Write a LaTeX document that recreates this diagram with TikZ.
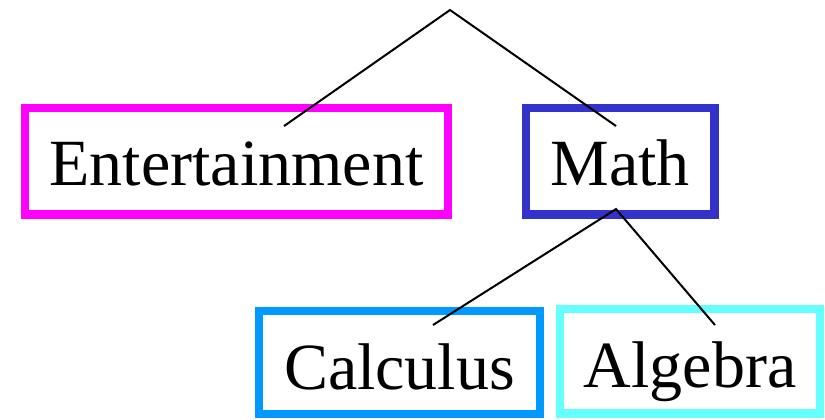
\documentclass[tikz,border=0pt]{standalone}
\usepackage{fontspec}
\setmainfont{Liberation Serif}
\definecolor{entc}{HTML}{FF00FF}
\definecolor{mathc}{HTML}{3333CC}
\definecolor{calcc}{HTML}{0099FF}
\definecolor{algc}{HTML}{66FFFF}
\begin{document}
\begin{tikzpicture}[x=0.5pt,y=-0.5pt,
  box/.style={draw, line width=4.25pt, inner sep=0pt, outer sep=0pt,
    font=\fontsize{33}{40}\selectfont, text height=24.5pt, text depth=0pt},
  link/.style={draw=black, line width=1pt}]
\useasboundingbox (0,0) rectangle (825,419);
\node[box, draw=entc, minimum width=211.5pt, minimum height=53.25pt] (ent) at (236.5,161.25) {Entertainment};
\node[box, draw=mathc, minimum width=94.25pt, minimum height=53.25pt] (math) at (620.25,161.25) {Math};
\node[box, draw=calcc, minimum width=140.5pt, minimum height=51.5pt, text height=26.5pt] (calc) at (399.5,362.5) {Calculus};
\node[box, draw=algc, minimum width=130pt, minimum height=52.25pt, text height=26.5pt] (alg) at (690,361.25) {Algebra};
\coordinate (root) at (450,10);
\draw[link] ([xshift=23.75pt,yshift=17.6pt]ent.center) -- (root) -- ([xshift=-2.1pt,yshift=17.6pt]math.center);
\draw[link] ([xshift=16.75pt,yshift=18.75pt]calc.center) -- ([xshift=-2.1pt,yshift=-23.9pt]math.center) -- ([xshift=12.5pt,yshift=18.1pt]alg.center);
\end{tikzpicture}
\end{document}
